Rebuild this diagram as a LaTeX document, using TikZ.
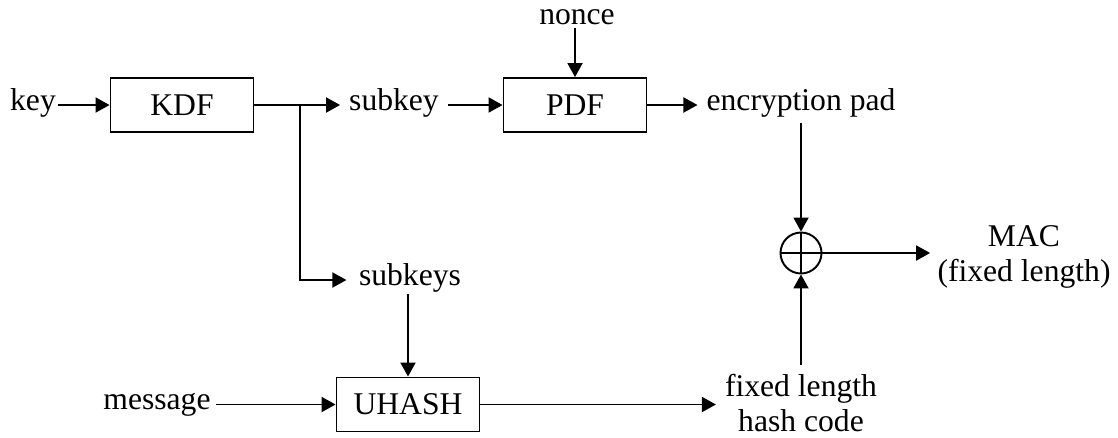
\documentclass[tikz,border=0pt]{standalone}
\usepackage{fontspec}
\setmainfont{Liberation Serif}
\usetikzlibrary{arrows.meta}

\begin{document}
\begin{tikzpicture}[x=0.02cm, y=-0.02cm,
    font=\fontsize{18}{20}\selectfont,
    box/.style={draw, rectangle, line width=1.1pt, minimum width=2.86cm, minimum height=1.08cm},
    txt/.style={inner sep=3pt, text height=1.5ex, text depth=.25ex},
    arr/.style={-{Triangle[length=0.28cm, width=0.3cm]}, line width=1.1pt}]
    \useasboundingbox (0,0) rectangle (1118,437);

    % top row
    \node[txt, inner xsep=1pt] (key) at (33,105) {key};
    \node[box] (kdf) at (182,105) {KDF};
    \coordinate (split) at (300,105);
    \node[txt, inner xsep=5pt] (subkey) at (394,105) {subkey};
    \node[box] (pdf) at (575,105) {PDF};
    \node[txt, inner sep=1pt] (nonce) at (577,19) {nonce};
    \node[txt, inner xsep=5pt, inner ysep=6pt] (pad) at (801,105) {encryption pad};

    % xor and output
    \node[draw, circle, line width=1.1pt, minimum size=0.82cm, inner sep=0pt] (xor) at (801,253) {};
    \draw[line width=1.1pt] (xor.north) -- (xor.south) (xor.west) -- (xor.east);
    \node[align=center, inner sep=4pt] (mac) at (1024,257) {MAC\\(fixed length)};

    % bottom row
    \node[txt, inner xsep=7pt, inner ysep=4pt] (subkeys) at (410,280) {subkeys};
    \node[txt] (msg) at (157,404.5) {message};
    \node[box] (uhash) at (408,404.5) {UHASH};
    \node[align=center, inner sep=5pt] (hash) at (801,403) {fixed length\\hash code};

    \draw[arr] (key) -- (kdf);
    \draw[arr] (kdf) -- (split) -- (subkey);
    \draw[arr] (split) |- (subkeys);
    \draw[arr] (subkey) -- (pdf);
    \draw[arr] (nonce.south -| pdf) -- (pdf);
    \draw[arr] (pdf) -- (pad);
    \draw[arr] (pad) -- (xor);
    \draw[arr] (xor) -- (xor -| mac.west);
    \draw[arr] (hash) -- (xor);
    \draw[arr] (msg) -- (uhash);
    \draw[arr] (subkeys.south -| uhash) -- (uhash);
    \draw[arr] (uhash) -- (uhash -| hash.west);
\end{tikzpicture}
\end{document}
